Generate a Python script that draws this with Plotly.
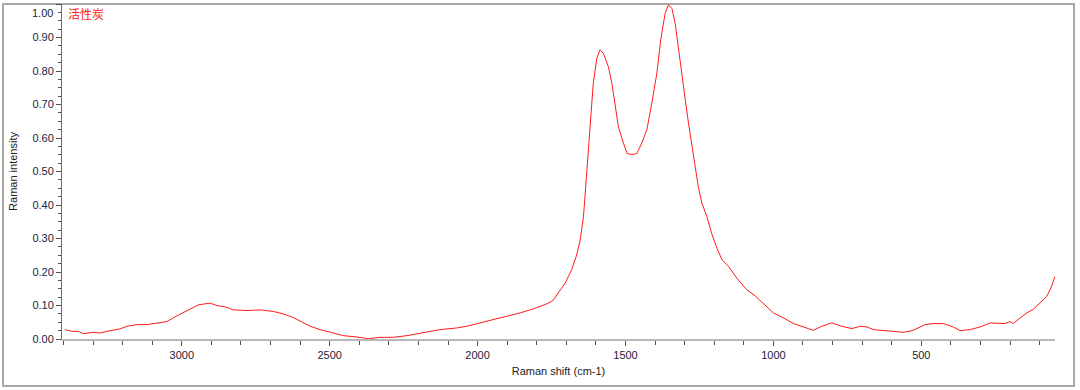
import plotly.graph_objects as go

# Raman spectrum of activated carbon (活性炭)
raman_shift = [3394, 3372, 3350, 3333, 3299, 3276, 3242, 3209, 3186, 3152, 3118, 3079, 3051,
               3023, 2995, 2966, 2944, 2904, 2882, 2848, 2826, 2780, 2735, 2690, 2657, 2623,
               2594, 2566, 2532, 2499, 2454, 2408, 2369, 2330, 2285, 2239, 2183, 2127, 2070,
               2037, 1992, 1947, 1901, 1856, 1811, 1766, 1745, 1727, 1704, 1682, 1665, 1653,
               1642, 1637, 1631, 1625, 1620, 1609, 1597, 1586, 1575, 1558, 1546, 1535, 1524,
               1507, 1494, 1478, 1462, 1445, 1428, 1411, 1394, 1381, 1366, 1355, 1343, 1332,
               1321, 1310, 1298, 1287, 1276, 1265, 1254, 1242, 1225, 1209, 1191, 1174, 1152,
               1124, 1090, 1062, 1034, 1000, 966, 932, 882, 865, 836, 803, 769, 735, 707,
               684, 662, 628, 594, 560, 527, 487, 459, 425, 392, 369, 335, 301, 267, 234,
               217, 200, 189, 166, 143, 121, 98, 76, 62, 48]
intensity = [0.028, 0.023, 0.023, 0.016, 0.020, 0.018, 0.025, 0.030, 0.038, 0.043, 0.043, 0.048,
             0.052, 0.066, 0.078, 0.092, 0.102, 0.107, 0.100, 0.095, 0.087, 0.085, 0.087, 0.082,
             0.075, 0.064, 0.052, 0.038, 0.028, 0.020, 0.010, 0.006, 0.001, 0.005, 0.005, 0.010,
             0.018, 0.028, 0.033, 0.038, 0.048, 0.058, 0.066, 0.078, 0.090, 0.105, 0.115, 0.137,
             0.167, 0.207, 0.251, 0.296, 0.366, 0.425, 0.495, 0.565, 0.644, 0.763, 0.838, 0.863,
             0.853, 0.813, 0.763, 0.704, 0.634, 0.585, 0.553, 0.551, 0.553, 0.585, 0.624, 0.704,
             0.793, 0.893, 0.972, 0.997, 0.987, 0.942, 0.873, 0.793, 0.714, 0.644, 0.585, 0.515,
             0.455, 0.406, 0.366, 0.316, 0.271, 0.237, 0.217, 0.182, 0.147, 0.129, 0.107, 0.078,
             0.063, 0.046, 0.031, 0.026, 0.038, 0.048, 0.038, 0.031, 0.038, 0.036, 0.028, 0.025,
             0.023, 0.020, 0.026, 0.043, 0.046, 0.046, 0.036, 0.025, 0.028, 0.036, 0.048, 0.048,
             0.046, 0.052, 0.046, 0.063, 0.078, 0.089, 0.107, 0.127, 0.152, 0.187]

y_tick_values = [0.0, 0.1, 0.2, 0.3, 0.4, 0.5, 0.6, 0.7, 0.8, 0.9, 1.0]
y_tick_labels = ["0.00", "0.10", "0.20", "0.30", "0.40", "0.50", "0.60", "0.70", "0.80", "0.90", ""]
top_tick_label = "1.00"
x_tick_values = [3000, 2500, 2000, 1500, 1000, 500]
x_tick_labels = ["3000", "2500", "2000", "1500", "1000", "500"]

sample_label = "活性炭"

W, H = 1080, 390
L, R, T, B = 62, 25, 4, 51
pw, ph = W - L - R, H - T - B

fig = go.Figure()
fig.add_trace(go.Scatter(x=raman_shift, y=intensity, mode="lines",
                         line=dict(color="#ff1a1a", width=1), showlegend=False,
                         hoverinfo="x+y"))

FONT = "Liberation Sans, Arial, sans-serif"
tick_font = dict(family=FONT, size=11, color="#1c1c3c")

fig.update_layout(
    width=W, height=H,
    margin=dict(l=L, r=R, t=T, b=B),
    paper_bgcolor="white", plot_bgcolor="white",
    xaxis=dict(range=[3405, 48], tickvals=x_tick_values, ticktext=x_tick_labels,
               automargin=False,
               ticks="outside", ticklen=5, tickcolor="#505050", tickwidth=1,
               minor=dict(dtick=100, ticks="outside", ticklen=4, tickcolor="#505050"),
               showline=True, linecolor="#b8b8b8", linewidth=2, showgrid=False,
               zeroline=False, tickfont=tick_font,
               title=dict(text="Raman shift (cm-1)", standoff=7,
                          font=dict(family=FONT, size=11, color="#222222"))),
    yaxis=dict(range=[0, 1.0], tickvals=y_tick_values, ticktext=y_tick_labels,
               automargin=False,
               ticks="outside", ticklen=5, tickcolor="#505050", tickwidth=1,
               minor=dict(dtick=0.025, tick0=0, ticks="outside", ticklen=3, tickcolor="#505050"),
               showline=True, linecolor="#6a6a6a", linewidth=1, showgrid=False,
               zeroline=False, tickfont=tick_font,
               title=dict(text="Raman intensity", standoff=12,
                          font=dict(family=FONT, size=11, color="#222222"))),
    annotations=[
        dict(text=sample_label, xref="paper", yref="paper",
             x=4 / pw, y=(H - B - 14) / ph, xanchor="left", yanchor="middle",
             showarrow=False,
             font=dict(family="Noto Sans CJK SC", size=12, color="#ff2020")),
        dict(text=top_tick_label, xref="paper", yref="paper",
             x=-7 / pw, y=(H - B - 13) / ph, xanchor="right", yanchor="middle",
             showarrow=False, font=tick_font),
    ],
    shapes=[dict(type="rect", xref="paper", yref="paper",
                 x0=(3 - L) / pw, x1=(1074 - L) / pw,
                 y0=(H - B - 386) / ph, y1=1.0,
                 line=dict(color="#a8a8a8", width=2), layer="below")],
)

fig.write_html("out.html", config={"displayModeBar": False},
               post_script="document.body.style.margin='0';document.body.style.overflow='hidden';")
